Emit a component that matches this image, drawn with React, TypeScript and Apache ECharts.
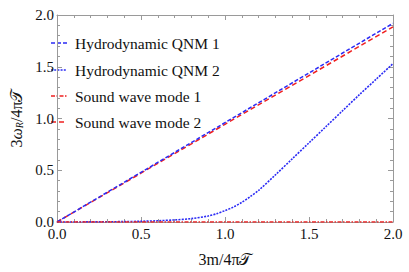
import React, { useEffect, useRef } from "react";
import * as echarts from "echarts";

const xLine = [0, 0.5, 1.0, 1.5, 2.0];
const hydro1 = [0, 0.48, 0.96, 1.44, 1.92];
const sound2 = [0, 0.472, 0.944, 1.415, 1.885];
const sound1 = [0, 0, 0, 0, 0];

const xCurve = [0, 0.1, 0.2, 0.3, 0.4, 0.5, 0.6, 0.7, 0.8, 0.9, 0.95, 1.0, 1.05, 1.1, 1.15, 1.2, 1.3, 1.4, 1.5, 1.6, 1.7, 1.8, 1.9, 2.0];
const hydro2 = [0, 0.0005, 0.001, 0.002, 0.004, 0.007, 0.012, 0.02, 0.033, 0.058, 0.08, 0.11, 0.145, 0.19, 0.245, 0.305, 0.455, 0.61, 0.765, 0.92, 1.075, 1.23, 1.38, 1.53];

const seriesNames = ["Hydrodynamic QNM 1", "Hydrodynamic QNM 2", "Sound wave mode 1", "Sound wave mode 2"];
const tickLabels = ["0.0", "0.5", "1.0", "1.5", "2.0"];

const BLUE = "#2b2bf5";
const RED = "#f02020";
const AXIS = "#9a9a9a";
const FONT = "Liberation Serif";

const dashes: Record<string, number[]> = {
  [seriesNames[0]]: [4, 2],
  [seriesNames[1]]: [2, 1.2],
  [seriesNames[2]]: [4, 1.5, 1.5, 1.5],
  [seriesNames[3]]: [5, 3],
};
const colors: Record<string, string> = {
  [seriesNames[0]]: BLUE,
  [seriesNames[1]]: BLUE,
  [seriesNames[2]]: RED,
  [seriesNames[3]]: RED,
};

function pairs(xs: number[], ys: number[]) {
  return xs.map((x, i) => [x, ys[i]]);
}

export default function App() {
  const ref = useRef<HTMLDivElement>(null);
  useEffect(() => {
    if (!ref.current) return;
    const chart = echarts.init(ref.current, null, { renderer: "svg" });
    const baseAxis = (pos: string, labels: boolean, margin = 4) => ({
      type: "value",
      position: pos,
      min: 0,
      max: 2,
      interval: 0.5,
      axisLine: { show: true, onZero: false, lineStyle: { color: AXIS, width: 1 } },
      axisTick: { show: true, inside: true, length: 5, lineStyle: { color: AXIS } },
      minorTick: { show: true, splitNumber: 5, length: 3, lineStyle: { color: AXIS } },
      splitLine: { show: false },
      axisLabel: {
        show: labels,
        margin,
        color: "#111",
        fontFamily: FONT,
        fontSize: 15,
        formatter: (v: number) => tickLabels[Math.round(v / 0.5)] ?? v.toFixed(1),
      },
    });
    const legendRows = [43, 70, 96, 122];
    const legendGraphics: any[] = [];
    seriesNames.forEach((n, i) => {
      legendGraphics.push({
        type: "line",
        shape: { x1: 51, y1: legendRows[i], x2: 67, y2: legendRows[i] },
        style: { stroke: colors[n], lineWidth: 1.5, lineDash: dashes[n] },
      });
      legendGraphics.push({
        type: "text",
        x: 75,
        y: legendRows[i],
        style: {
          text: n,
          fontFamily: FONT,
          fontSize: 15.5,
          fill: "#111",
          verticalAlign: "middle",
        },
      });
    });
    chart.setOption({
      animation: false,
      backgroundColor: "#fff",
      grid: { left: 48, right: 16, top: 15, bottom: 47, containLabel: false },
      graphic: legendGraphics,
      xAxis: [
        {
          ...baseAxis("bottom", true, 4),
          name: "3m/4π𝒯",
          nameLocation: "middle",
          nameGap: 29,
          nameTextStyle: { fontFamily: FONT, fontSize: 16, color: "#111" },
        },
        { ...baseAxis("top", false) },
      ],
      yAxis: [
        {
          ...baseAxis("left", true, 3),
          name: "{a|3}{i|ω}{s|R}{a|/4π𝒯}",
          nameLocation: "middle",
          nameGap: 33,
          nameRotate: 90,
          nameTextStyle: {
            rich: {
              a: { fontFamily: FONT, fontSize: 16, color: "#111" },
              i: { fontFamily: FONT, fontSize: 16, fontStyle: "italic", color: "#111" },
              s: { fontFamily: FONT, fontSize: 10, fontStyle: "italic", color: "#111", verticalAlign: "bottom", padding: [6, 0, 0, 0] },
            },
          },
        },
        { ...baseAxis("right", false) },
      ],
      series: [
        {
          name: seriesNames[1],
          type: "line",
          data: pairs(xCurve, hydro2),
          showSymbol: false,
          symbol: "none",
          smooth: 0.3,
          lineStyle: { color: BLUE, width: 1.6, type: dashes[seriesNames[1]] },
        },
        {
          name: seriesNames[3],
          type: "line",
          data: pairs(xLine, sound2),
          showSymbol: false,
          symbol: "none",
          lineStyle: { color: RED, width: 1.5, type: dashes[seriesNames[3]] },
        },
        {
          name: seriesNames[0],
          type: "line",
          data: pairs(xLine, hydro1),
          showSymbol: false,
          symbol: "none",
          lineStyle: { color: BLUE, width: 1.5, type: dashes[seriesNames[0]] },
        },
        {
          name: seriesNames[2],
          type: "line",
          data: pairs(xLine, sound1),
          showSymbol: false,
          symbol: "none",
          lineStyle: { color: RED, width: 1.5, type: dashes[seriesNames[2]] },
        },
      ],
    });
    return () => chart.dispose();
  }, []);
  return (
    <div
      ref={ref}
      style={{ position: "fixed", left: 0, top: 0, width: 409, height: 272 }}
    />
  );
}
